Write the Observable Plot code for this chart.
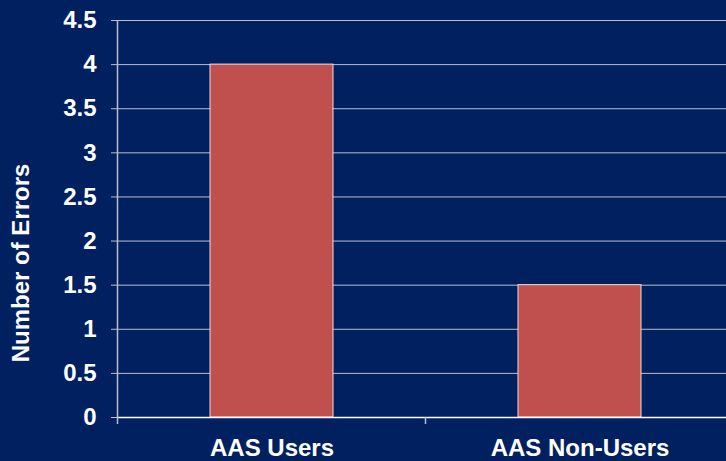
<!DOCTYPE html>
<html>
<head>
<meta charset="utf-8">
<script src="https://cdn.jsdelivr.net/npm/d3@7"></script>
<script src="https://cdn.jsdelivr.net/npm/@observablehq/plot@0.6"></script>
<style>
  html, body { margin: 0; padding: 0; background: #002060; }
  svg { display: block; }
</style>
</head>
<body>
<div id="chart"></div>
<script>
const categories = ["AAS Users", "AAS Non-Users"];
const errors = [4, 1.5];
const yTicks = [0, 0.5, 1, 1.5, 2, 2.5, 3, 3.5, 4, 4.5];
const yLabel = ["Number of Errors"];

const data = categories.map((c, i) => ({category: c, value: errors[i]}));

const W = 726, H = 461;
const font = "Liberation Sans, Arial, Helvetica, sans-serif";

const chart = Plot.plot({
  width: W,
  height: H,
  marginLeft: 118,
  marginRight: 0,
  marginTop: 20,
  marginBottom: 44,
  style: {background: "#002060", color: "white", fontFamily: font, overflow: "visible"},
  x: {domain: categories, range: [118, 734], paddingInner: 0.6, paddingOuter: 0.3, label: null},
  y: {domain: [0, 4.5], label: null},
  marks: [
    Plot.ruleY(yTicks.filter(d => d > 0), {stroke: "#b8bfcc", strokeWidth: 1}),
    Plot.barY(data, {x: "category", y: "value", fill: "#c0504d", stroke: "#f2dcdb", strokeWidth: 1}),
    Plot.ruleY([0], {stroke: "white", strokeWidth: 1.5}),
    Plot.axisY({ticks: yTicks, tickFormat: d => String(d), tickSize: 7, tickPadding: 15,
      fontSize: 24, fontWeight: "bold", stroke: "#b8bfcc", fill: "white", label: null}),
    Plot.axisX({tickSize: 0, tickPadding: 21, fontSize: 24, fontWeight: "bold", fill: "white", label: null}),
    Plot.text(yLabel, {frameAnchor: "left", textAnchor: "middle", lineAnchor: "middle", rotate: -90,
      dx: -97, dy: 44, fontSize: 24, fontWeight: "bold", fill: "white", text: d => d})
  ]
});

// left axis line and category boundary ticks derived from the band scale
const xs = chart.scale("x");
const svg = d3.select(chart);
const gap = xs.step - xs.bandwidth;
const bounds = categories.map(c => xs.apply(c) - gap / 2);
bounds.push(xs.apply(categories[categories.length - 1]) + xs.bandwidth + gap / 2);
const ys = chart.scale("y");
const y0 = ys.apply(0), yTop = ys.apply(4.5);
svg.append("line").attr("x1", bounds[0]).attr("x2", bounds[0])
  .attr("y1", yTop).attr("y2", y0 + 7).attr("stroke", "#b8bfcc").attr("stroke-width", 1.5);
bounds.slice(1).forEach(b => {
  svg.append("line").attr("x1", b).attr("x2", b).attr("y1", y0).attr("y2", y0 + 7)
    .attr("stroke", "#b8bfcc").attr("stroke-width", 1.5);
});

document.getElementById("chart").append(chart);
</script>
</body>
</html>
